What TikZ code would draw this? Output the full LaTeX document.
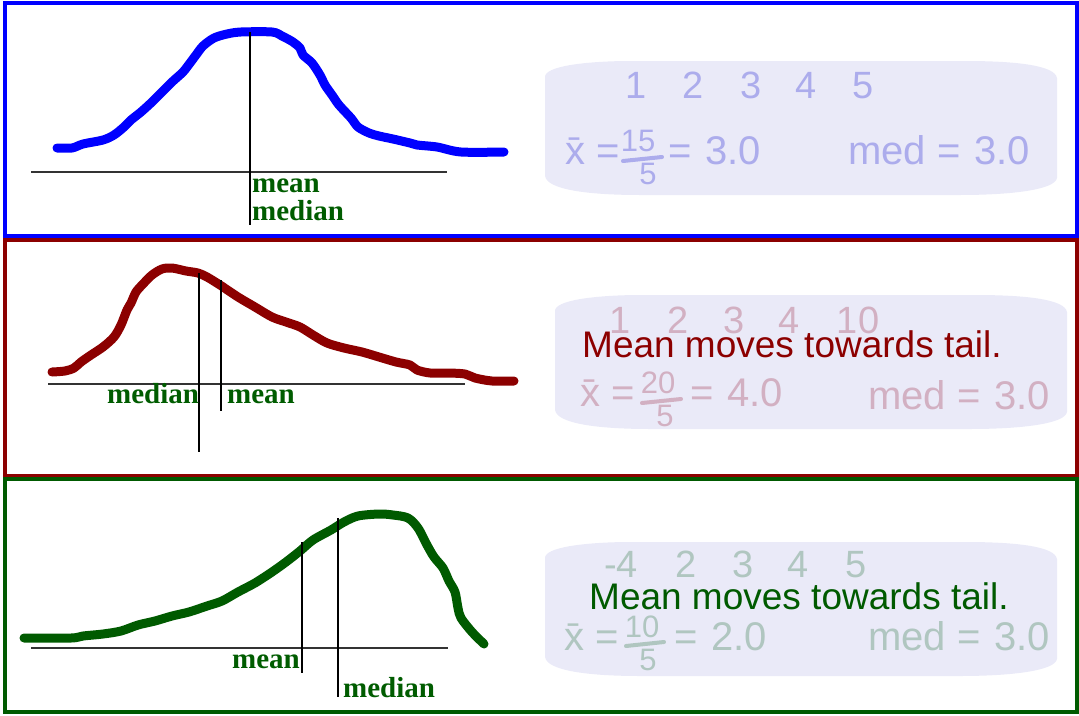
\documentclass[tikz,border=0pt]{standalone}
\usepackage{fontspec}
\setmainfont{Liberation Serif}
\setsansfont{Liberation Sans}
\usetikzlibrary{positioning}

\definecolor{frameblue}{RGB}{0,0,255}
\definecolor{framered}{RGB}{140,0,0}
\definecolor{framegreen}{RGB}{0,90,0}
\definecolor{labelgreen}{RGB}{0,92,0}
\definecolor{boxfill}{RGB}{234,234,248}
\definecolor{inkblue}{RGB}{172,172,236}
\definecolor{inkred}{RGB}{210,176,194}
\definecolor{inkgreen}{RGB}{176,198,192}

\tikzset{
  panel/.style={line width=4pt},
  curve/.style={line width=9pt, line cap=round, line join=round},
  axisline/.style={line width=1.3pt, black!80},
  guide/.style={line width=1.2pt, black},
  statlabel/.style={font=\bfseries\fontsize{29}{28}\selectfont, text=labelgreen,
                    inner sep=0pt, anchor=base west},
  notebox/.style={fill=boxfill},
  datum/.style={font=\sffamily\fontsize{38}{40}\selectfont, inner sep=0pt, anchor=base},
  hand/.style={font=\sffamily\fontsize{40}{42}\selectfont, inner sep=0pt, anchor=base west},
  fracpart/.style={font=\sffamily\fontsize{31}{32}\selectfont, inner sep=0pt, anchor=base},
  fracbar/.style={line width=4pt, line cap=round},
  caption/.style={font=\sffamily\fontsize{37}{40}\selectfont, inner sep=0pt, anchor=base west},
}
\newcommand{\handval}[1]{=\hspace{14pt}#1}
% pale note card, shifted to its top left corner
\newcommand{\notecard}[1]{%
  \fill[notebox, shift={#1}] (0,15) .. controls (3,3) and (55,0) .. (85,0)
    -- (420,0) .. controls (475,0) and (510,5) .. (512,17) -- (512,117)
    .. controls (510,129) and (465,134) .. (415,134) -- (95,134)
    .. controls (45,134) and (2,129) .. (0,115) -- cycle;}

\begin{document}
\begin{tikzpicture}[x=1pt,y=-1pt]
\useasboundingbox (0,0) rectangle (1079,715);

% three panels
\draw[panel, frameblue] (5,3) rectangle (1077,236);
\draw[panel, framered] (5,240) rectangle (1077,476);
\draw[panel, framegreen] (5,479) rectangle (1077,712);

% symmetric
\draw[curve, frameblue] plot[smooth, tension=0.5] coordinates {
  (57,148) (72,148) (83,144) (103,140) (114,135) (124,127) (131,120) (141,112)
  (152,102) (162,92) (172,82) (183,72) (190,63) (196,55) (203,46) (214,38)
  (227,34) (241,32) (272,32) (282,36) (293,42) (300,48) (303,55) (312,63)
  (320,75) (325,85) (332,95) (339,105) (351,118) (358,127) (369,133) (379,136)
  (393,139) (410,143) (417,145) (437,147) (461,152) (504,152)};
\draw[axisline] (31,172) -- (447,172);
\draw[guide] (250,32) -- (250,225);
\node[statlabel] (meanA) at (252,192) {mean};
\node[statlabel] (medianA) at (252,220) {median};

\notecard{(545,61)}
\foreach \v/\x in {1/636, 2/693, 3/751, 4/806, 5/863}
  \node[datum, text=inkblue] (dA\v) at (\x,98) {\v};
\node[hand, text=inkblue] (xbarA) at (565,164) {\=x =};
\node[fracpart, text=inkblue] (numA) at (638,151) {15};
\node[fracpart, text=inkblue] (denA) at (648,184) {5};
\draw[fracbar, inkblue] (623,161) -- (662,157);
\node[hand, text=inkblue] (valA) at (668,164) {\handval{3.0}};
\node[hand, text=inkblue] (medA) at (848,164) {med \handval{3.0}};

% right skewed
\draw[curve, framered] plot[smooth, tension=0.5] coordinates {
  (52,372) (65,371) (74,368) (81,362) (91,355) (103,347) (114,337) (121,325)
  (127,310) (131,303) (136,292) (143,284) (152,275) (162,269) (172,268) (186,271)
  (198,273) (207,277) (220,285) (238,297) (255,307) (272,317) (286,322) (300,327)
  (313,335) (327,343) (344,348) (362,352) (379,357) (396,362) (410,365) (417,370)
  (430,373) (448,373) (465,374) (475,378) (492,381) (514,381)};
\draw[axisline] (48,384) -- (465,384);
\draw[guide] (199,273) -- (199,452);
\draw[guide] (221,280) -- (221,411);
\node[statlabel] (medianB) at (107,403) {median};
\node[statlabel] (meanB) at (227,403) {mean};

\notecard{(555,295)}
\foreach \v/\x in {1/620, 2/678, 3/734, 4/789, 10/858}
  \node[datum, text=inkred] (dB\v) at (\x,333) {\v};
\node[caption, text=framered] (tailB) at (582,357) {Mean moves towards tail.};
\node[hand, text=inkred] (xbarB) at (580,406) {\=x =};
\node[fracpart, text=inkred] (numB) at (658,393) {20};
\node[fracpart, text=inkred] (denB) at (665,426) {5};
\draw[fracbar, inkred] (642,403) -- (681,399);
\node[hand, text=inkred] (valB) at (690,406) {\handval{4.0}};
\node[hand, text=inkred] (medB) at (868,409) {med \handval{3.0}};

% left skewed
\draw[curve, framegreen] plot[smooth, tension=0.5] coordinates {
  (24,638) (71,638) (83,636) (103,634) (121,631) (138,625) (155,621) (172,616)
  (189,612) (207,606) (222,601) (238,592) (255,583) (272,572) (286,562) (300,551)
  (313,540) (331,530) (344,522) (358,516) (379,514) (393,515) (408,518) (418,528)
  (427,545) (434,557) (443,568) (449,581) (455,592) (458,608) (461,618) (472,632)
  (484,644)};
\draw[axisline] (31,648) -- (448,648);
\draw[guide] (302,542) -- (302,673);
\draw[guide] (338,518) -- (338,697);
\node[statlabel] (meanC) at (232,668) {mean};
\node[statlabel] (medianC) at (343,697) {median};

\notecard{(545,542)}
\foreach \v/\x in {-4/621, 2/686, 3/743, 4/798, 5/856}
  \node[datum, text=inkgreen] (dC\v) at (\x,577) {\v};
\node[caption, text=framegreen] (tailC) at (589,609) {Mean moves towards tail.};
\node[hand, text=inkgreen] (xbarC) at (564,650) {\=x =};
\node[fracpart, text=inkgreen] (numC) at (642,637) {10};
\node[fracpart, text=inkgreen] (denC) at (648,670) {5};
\draw[fracbar, inkgreen] (626,646) -- (664,642);
\node[hand, text=inkgreen] (valC) at (674,650) {\handval{2.0}};
\node[hand, text=inkgreen] (medC) at (868,650) {med \handval{3.0}};
\end{tikzpicture}
\end{document}
